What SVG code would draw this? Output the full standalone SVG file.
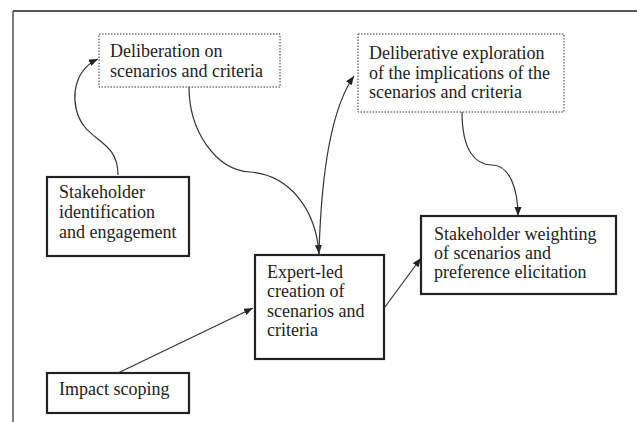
<svg xmlns="http://www.w3.org/2000/svg" width="637" height="422" viewBox="0 0 637 422">
<style>
text{font-family:"Liberation Serif","Times New Roman",serif;font-size:18px;fill:#222}
.solid{fill:#fff;stroke:#222;stroke-width:2.2}
.dot{fill:#fff;stroke:#333;stroke-width:1;stroke-dasharray:1.5 1.5}
.c{fill:none;stroke:#333;stroke-width:1.2}
</style>
<defs>
<marker id="ah" markerUnits="userSpaceOnUse" markerWidth="10" markerHeight="8" refX="9" refY="3.5" orient="auto">
<path d="M0,0 L9,3.5 L0,7 z" fill="#222"/>
</marker>
</defs>
<rect width="637" height="422" fill="#fff"/>
<g id="frame" stroke="#222" fill="none">
<line x1="13" y1="11" x2="637" y2="11" stroke-width="1.6"/>
<line x1="13" y1="11" x2="13" y2="422" stroke-width="1.2"/>
</g>
<g id="connectors">
<path class="c" d="M118,175 C118,145 96,142 84,126 C70,108 70,72 98,59" marker-end="url(#ah)"/>
<path class="c" d="M189,87 C189,130 215,170 250,172 C290,175 316,210 319,254" marker-end="url(#ah)"/>
<path class="c" d="M319,254 C321,180 330,110 354,76" marker-end="url(#ah)"/>
<path class="c" d="M462,112 C462,150 475,165 492,165 C510,165 518,190 518,216" marker-end="url(#ah)"/>
<path class="c" d="M118,373 L253,308" marker-end="url(#ah)"/>
<path class="c" d="M385,307 L421,258" marker-end="url(#ah)"/>
</g>
<g id="n1">
<rect class="dot" x="99" y="34" width="181" height="53"/>
<text x="110" y="57">Deliberation on</text>
<text x="110" y="77">scenarios and criteria</text>
</g>
<g id="n2">
<rect class="dot" x="358" y="34" width="206" height="78"/>
<text x="369" y="59">Deliberative exploration</text>
<text x="369" y="79">of the implications of the</text>
<text x="369" y="98">scenarios and criteria</text>
</g>
<g id="n3">
<rect class="solid" x="47" y="177" width="142" height="79"/>
<text x="59" y="198">Stakeholder</text>
<text x="59" y="218">identification</text>
<text x="59" y="238">and engagement</text>
</g>
<g id="n4">
<rect class="solid" x="255" y="255" width="129" height="104"/>
<text x="267" y="278">Expert-led</text>
<text x="267" y="297">creation of</text>
<text x="267" y="317">scenarios and</text>
<text x="267" y="336">criteria</text>
</g>
<g id="n5">
<rect class="solid" x="421" y="216" width="195" height="78"/>
<text x="434" y="240">Stakeholder weighting</text>
<text x="434" y="259">of scenarios and</text>
<text x="434" y="278">preference elicitation</text>
</g>
<g id="n6">
<rect class="solid" x="47" y="373" width="142" height="40"/>
<text x="59" y="395">Impact scoping</text>
</g>
</svg>
